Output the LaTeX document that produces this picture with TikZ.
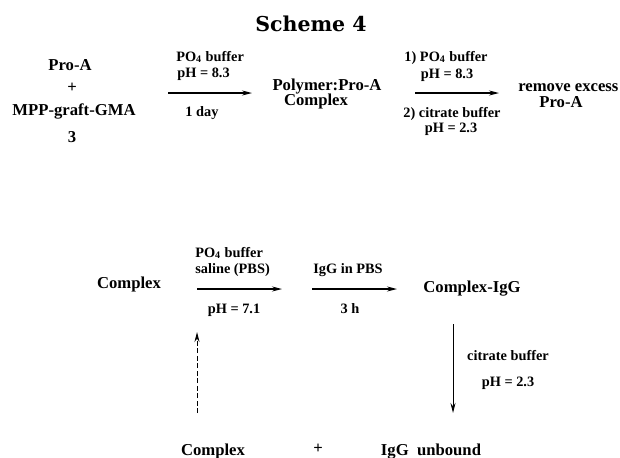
\documentclass[tikz,border=0pt]{standalone}
\usepackage{fontspec}
\setmainfont{Liberation Serif}
\newfontfamily\titlefont{DejaVu Serif}
\usepackage{tikz}
\usetikzlibrary{positioning,arrows.meta}
\tikzset{
  chem/.style={anchor=base, inner sep=0pt, font=\fontsize{10}{12}\selectfont\bfseries},
  cond/.style={anchor=base, inner sep=0pt, font=\fontsize{8.6}{10}\selectfont\bfseries},
  rxn/.style={draw=black, line width=0.8pt, -{Stealth[length=6pt,width=3pt]}},
  back/.style={rxn, line width=0.6pt, dashed, dash pattern=on 3pt off 1.5pt}
}
\newcommand{\phos}{PO\textsubscript{4}}

\begin{document}
\begin{tikzpicture}[x=0.6pt, y=-0.6pt]
  \useasboundingbox (0,0) rectangle (620,457);

  % Title
  \node[anchor=base, inner sep=0pt, font=\titlefont\fontsize{12.3}{15}\selectfont\bfseries] (title) at (311,31) {Scheme 4};

  % First line: coupling of Pro-A
  \node[chem] (proa) at (70,70) {Pro-A};
  \node[chem, anchor=center] (plus1) at (72,88) {+};
  \node[chem] (mpp) at (74,115) {MPP-graft-GMA};
  \node[chem] (three) at (72,142) {3};

  \coordinate (a1s) at (168,93);
  \coordinate (a1e) at (252,93);
  \draw[rxn] (a1s) -- (a1e);
  \node[cond, anchor=base west] (po1) at (176,61) {\phos{} buffer};
  \node[cond, anchor=base west] (ph1) at (177,77) {pH = 8.3};
  \node[cond] (day) at (202,116) {1 day};

  \node[chem] (poly) at (327,90) {Polymer:Pro-A};
  \node[chem] (cplx1) at (316,105) {Complex};

  \coordinate (a2s) at (415,93);
  \coordinate (a2e) at (499,93);
  \draw[rxn] (a2s) -- (a2e);
  \node[cond] (po2) at (446,61) {1) \phos{} buffer};
  \node[cond] (ph2) at (447,78) {pH = 8.3};
  \node[cond] (cit1) at (452,117) {2) citrate buffer};
  \node[cond] (ph3) at (451,132) {pH = 2.3};

  \node[chem, anchor=base west] (remove) at (518,91) {remove excess};
  \node[chem] (proa2) at (561,107) {Pro-A};

  % Second line: binding of IgG
  \node[chem] (cplx2) at (129,288) {Complex};

  \coordinate (a3s) at (197,289);
  \coordinate (a3e) at (282,289);
  \draw[rxn] (a3s) -- (a3e);
  \node[cond, anchor=base west] (po3) at (195,257) {\phos{} buffer};
  \node[cond, anchor=base west] (sal) at (195,273) {saline (PBS)};
  \node[cond] (ph4) at (234,313) {pH = 7.1};

  \coordinate (a4s) at (312,289);
  \coordinate (a4e) at (397,289);
  \draw[rxn] (a4s) -- (a4e);
  \node[cond] (igg1) at (348,273) {IgG in PBS};
  \node[cond] (hrs) at (350,313) {3 h};

  \node[chem] (cigg) at (472,292) {Complex-IgG};

  % Elution
  \coordinate (a5s) at (453,324);
  \coordinate (a5e) at (453,413);
  \draw[rxn, line width=0.6pt] (a5s) -- (a5e);
  \node[cond] (cit2) at (508,360) {citrate buffer};
  \node[cond] (ph5) at (508,386) {pH = 2.3};

  % Products and recycling
  \node[chem] (cplx3) at (213,455) {Complex};
  \node[chem, anchor=center] (plus2) at (318,449) {+};
  \node[chem] (unb) at (431,455) {IgG\ \ unbound};

  \coordinate (b1s) at (197,413);
  \coordinate (b1e) at (197,332);
  \draw[back] (b1s) -- (b1e);
\end{tikzpicture}
\end{document}
